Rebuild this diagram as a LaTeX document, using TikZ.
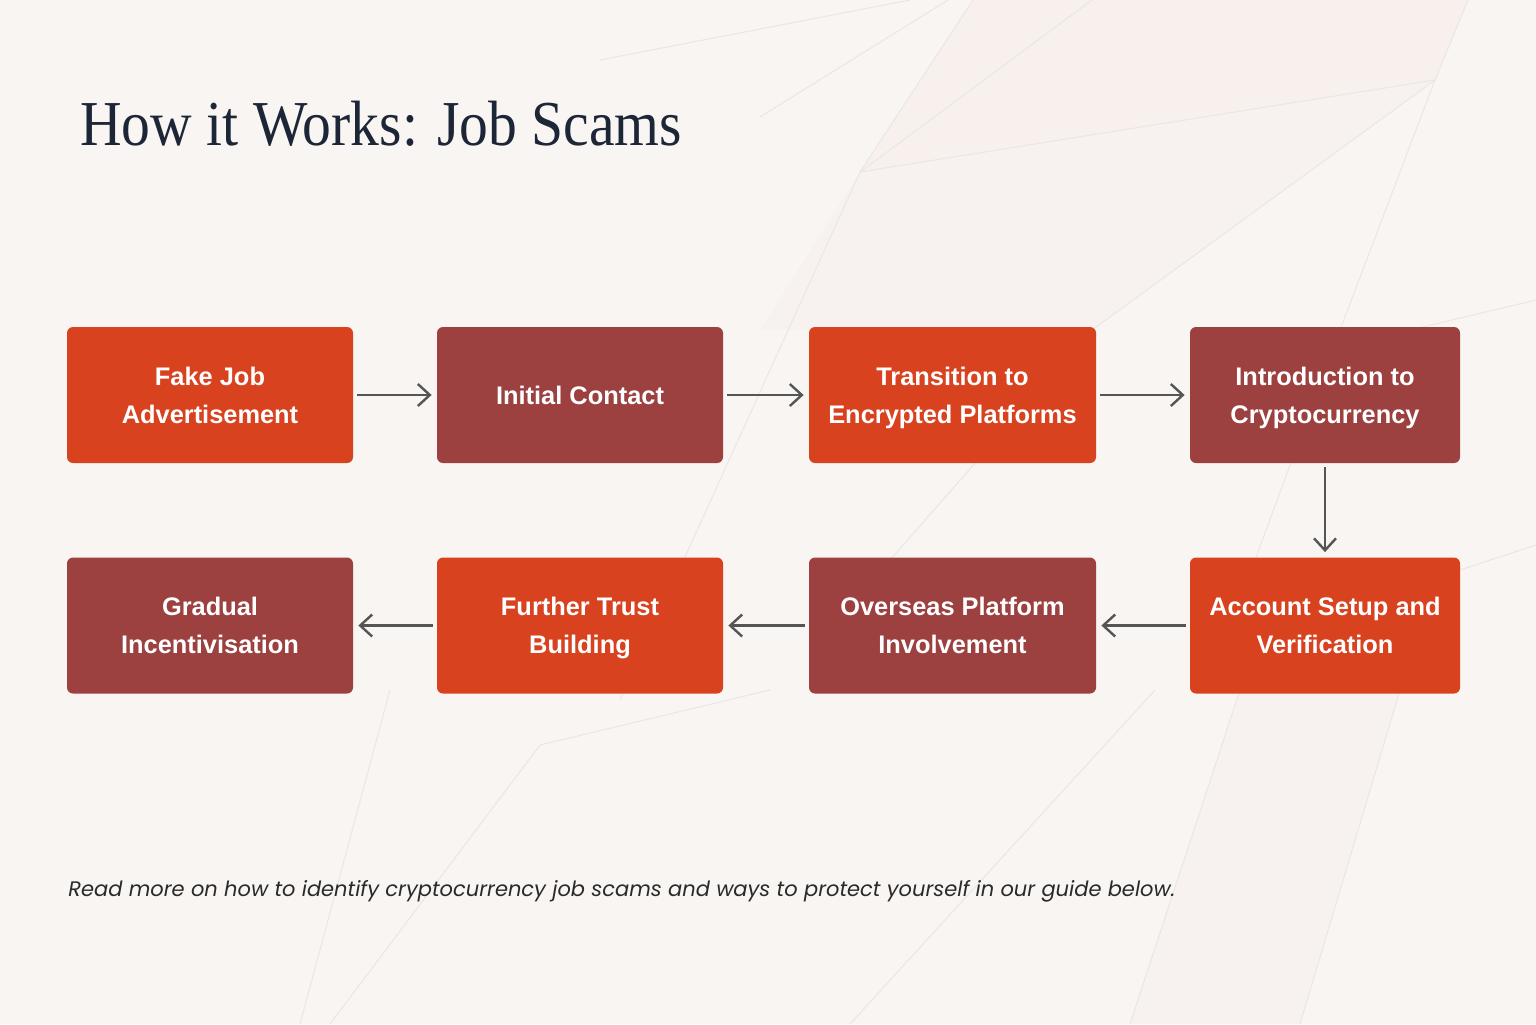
\documentclass[tikz,border=0pt]{standalone}
\usepackage{fontspec}
\setmainfont{Liberation Serif}
\newfontfamily\boxfont{Liberation Sans}
\newfontfamily\notefont{Poppins}
\usetikzlibrary{arrows.meta}
\newcommand\tstrut{\rule[-4pt]{0pt}{17pt}}
\definecolor{bgcol}{HTML}{F8F5F2}
\definecolor{pinktint}{HTML}{F6ECE9}
\definecolor{faintline}{HTML}{E9E7E5}
\definecolor{orangebox}{HTML}{D8421F}
\definecolor{redbox}{HTML}{9C4040}
\definecolor{arrowgray}{HTML}{555555}
\definecolor{titlecol}{HTML}{1C2636}
\definecolor{notecol}{HTML}{2A2A2A}
\tikzset{
  stepbox/.style={rectangle, rounded corners=3pt, minimum width=143pt, minimum height=68pt,
    text=white, align=center, inner sep=0pt,
    font=\boxfont\bfseries\fontsize{12.7}{19}\selectfont},
  orangestep/.style={stepbox, fill=orangebox},
  redstep/.style={stepbox, fill=redbox},
  flow/.style={draw=arrowgray, line width=1.2pt, -{Straight Barb[length=6pt,width=11pt,line width=1.2pt]},
    shorten <=2pt, shorten >=2.5pt},
  bgline/.style={draw=faintline, line width=0.5pt}
}
\begin{document}
\begin{tikzpicture}[x=0.5pt,y=-0.5pt]
\useasboundingbox (0,0) rectangle (1536,1024);
\fill[bgcol] (0,0) rectangle (1536,1024);
% faint tinted regions
\fill[pinktint, opacity=0.45] (973,0) -- (1468,0) -- (1435,80) -- (860,172) -- cycle;
\fill[pinktint, opacity=0.3] (860,172) -- (1435,80) -- (1092,330) -- (760,330) -- cycle;
\fill[pinktint, opacity=0.25] (1240,690) -- (1400,690) -- (1300,1024) -- (1130,1024) -- cycle;
% faint background lines
\draw[bgline] (860,172) -- (973,0);
\draw[bgline] (860,172) -- (1092,0);
\draw[bgline] (860,172) -- (1435,80);
\draw[bgline] (1468,0) -- (1435,80) -- (1340,330);
\draw[bgline] (1435,80) -- (1092,330);
\draw[bgline] (600,60) -- (910,0);
\draw[bgline] (760,117) -- (948,0);
\draw[bgline] (860,172) -- (620,700);
\draw[bgline] (1340,330) -- (1255,560);
\draw[bgline] (1410,330) -- (1536,300);
\draw[bgline] (1092,330) -- (890,560);
\draw[bgline] (540,745) -- (770,690);
\draw[bgline] (540,745) -- (330,1024);
\draw[bgline] (390,690) -- (300,1024);
\draw[bgline] (1155,690) -- (850,1024);
\draw[bgline] (1240,690) -- (1130,1024);
\draw[bgline] (1400,690) -- (1300,1024);
\draw[bgline] (1460,570) -- (1536,545);

% title
\node[anchor=base west, inner sep=0pt, text=titlecol,
  font=\fontsize{32}{38}\selectfont] (title) at (80,145)
  {\scalebox{0.9}[1]{How it Works: Job Scams}};

% boxes row 1
\node[orangestep] (b1) at (210,395) {\tstrut Fake Job\\\tstrut Advertisement};
\node[redstep] (b2) at (580,395) {\tstrut Initial Contact};
\node[orangestep, minimum width=143.5pt] (b3) at (952.5,395) {\tstrut Transition to\\\tstrut Encrypted Platforms};
\node[redstep, minimum width=135pt] (b4) at (1325,395) {\tstrut Introduction to\\\tstrut Cryptocurrency};
% boxes row 2
\node[orangestep, minimum width=135pt] (b5) at (1325,625.5) {\tstrut Account Setup and\\\tstrut Verification};
\node[redstep, minimum width=143.5pt] (b6) at (952.5,625.5) {\tstrut Overseas Platform\\\tstrut Involvement};
\node[orangestep] (b7) at (580,625.5) {\tstrut Further Trust\\\tstrut Building};
\node[redstep] (b8) at (210,625.5) {\tstrut Gradual\\\tstrut Incentivisation};

% connectors
\draw[flow] (b1) -- (b2);
\draw[flow] (b2) -- (b3);
\draw[flow] (b3) -- (b4);
\draw[flow] (b4) -- (b5);
\draw[flow] (b5) -- (b6);
\draw[flow] (b6) -- (b7);
\draw[flow] (b7) -- (b8);

% footnote
\node[anchor=base west, inner sep=0pt, text=notecol,
  font=\notefont\itshape\fontsize{10.5}{13}\selectfont] (note) at (68,896)
  {Read more on how to identify cryptocurrency job scams and ways to protect yourself in our guide below.};
\end{tikzpicture}
\end{document}
